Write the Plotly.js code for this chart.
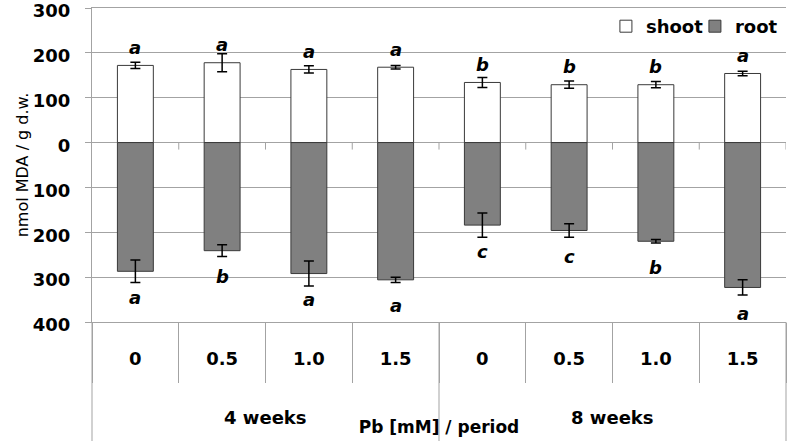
<!DOCTYPE html>
<html>
<head>
<meta charset="utf-8">
<script src="https://cdn.plot.ly/plotly-3.0.1.min.js"></script>
<style>html,body{margin:0;padding:0;background:#fff;}#chart{width:788px;height:441px;}</style>
</head>
<body>
<div id="chart"></div>
<script>
// ---- data ----
const groups = ['4 weeks', '8 weeks'];
const doses = ['0', '0.5', '1.0', '1.5'];
const shootMean = [172, 178, 163, 168, 134, 129, 129, 154];
const shootErr = [7, 20, 8, 4, 11, 8, 7, 5];
const rootMean = [287, 241, 292, 306, 184, 196, 220, 323];
const rootErr = [25, 13, 28, 6, 27, 15, 4, 17];
const shootLetters = ['a', 'a', 'a', 'a', 'b', 'b', 'b', 'a'];
const rootLetters = ['a', 'b', 'a', 'a', 'c', 'c', 'b', 'a'];
const yTickVals = [300, 200, 100, 0, -100, -200, -300, -400];

// ---- build ----
const cats = [];
const tickText = [];
groups.forEach(g => doses.forEach(d => { cats.push(g + ' | ' + d); tickText.push(d); }));

const gridCol = '#a3a3a3';
const FONT = 'DejaVu Sans, Arial, sans-serif';

const shoot = {
  type: 'bar', name: 'shoot', x: cats, y: shootMean,
  marker: { color: '#ffffff', line: { color: '#3a3a3a', width: 1 } },
  error_y: { type: 'data', array: shootErr, visible: true, color: '#000', thickness: 1.5, width: 5 },
  hoverinfo: 'skip'
};
const root = {
  type: 'bar', name: 'root', x: cats, y: rootMean.map(v => -v),
  marker: { color: '#808080', line: { color: '#3a3a3a', width: 1 } },
  error_y: { type: 'data', array: rootErr, visible: true, color: '#000', thickness: 1.5, width: 5 },
  hoverinfo: 'skip'
};

const annotations = [];
cats.forEach((c, i) => {
  annotations.push({ x: c, y: shootMean[i], xref: 'x', yref: 'y', text: '<b><i>' + shootLetters[i] + '</i></b>',
    showarrow: false, yshift: 18, yanchor: 'middle', font: { family: FONT, size: 18, color: '#000' } });
  annotations.push({ x: c, y: -rootMean[i], xref: 'x', yref: 'y', text: '<b><i>' + rootLetters[i] + '</i></b>',
    showarrow: false, yshift: -26, yanchor: 'middle', font: { family: FONT, size: 18, color: '#000' } });
});
// group labels
let start = 0;
const shapes = [];
groups.forEach((g, gi) => {
  const n = doses.length;
  annotations.push({ x: start + (n - 1) / 2, y: 0, xref: 'x', yref: 'paper', text: '<b>' + g + '</b>',
    showarrow: false, yshift: -95, yanchor: 'middle', font: { family: FONT, size: 18, color: '#000' } });
  start += n;
  if (gi < groups.length - 1) {
    shapes.push({ type: 'line', xref: 'x', yref: 'paper', x0: start - 0.5, x1: start - 0.5, y0: 0, y1: -0.5,
      line: { color: gridCol, width: 1 } });
  }
});
// outer edges of the table
shapes.push({ type: 'line', xref: 'paper', yref: 'paper', x0: 0, x1: 0, y0: 0, y1: -0.5, line: { color: gridCol, width: 1 } });
shapes.push({ type: 'line', xref: 'paper', yref: 'paper', x0: 1, x1: 1, y0: 0, y1: -0.5, line: { color: gridCol, width: 1 } });
// small tick marks on the zero line at category boundaries
cats.forEach((c, i) => {
  shapes.push({ type: 'line', xref: 'x', yref: 'y', ysizemode: 'pixel', yanchor: 0, x0: i + 0.5, x1: i + 0.5, y0: 0, y1: -7,
    line: { color: gridCol, width: 1 } });
});

const layout = {
  width: 788, height: 441,
  margin: { l: 92, r: 2, t: 8, b: 119 },
  paper_bgcolor: '#fff', plot_bgcolor: '#fff',
  font: { family: FONT, color: '#000' },
  barmode: 'relative', bargap: 0.586,
  showlegend: true,
  legend: { orientation: 'h', x: 0.997, xanchor: 'right', y: 1, yanchor: 'top', bgcolor: 'rgba(0,0,0,0)',
    font: { family: FONT, size: 18, color: '#000', weight: 'bold' }, itemwidth: 30, traceorder: 'normal',
    entrywidth: 44, entrywidthmode: 'pixels' },
  xaxis: {
    type: 'category', categoryorder: 'array', categoryarray: cats,
    tickmode: 'array', tickvals: cats, ticktext: tickText,
    tickson: 'boundaries', ticks: 'outside', ticklen: 60, tickcolor: gridCol, tickwidth: 1,
    ticklabelstandoff: 20,
    tickfont: { family: FONT, size: 18, color: '#000', weight: 'bold' },
    showgrid: false, zeroline: false, showline: true, mirror: true, linecolor: gridCol, linewidth: 1,
    range: [-0.5, cats.length - 0.5],
    title: { text: '<b>Pb [mM] / period</b>', font: { family: FONT, size: 17, color: '#000' }, standoff: 53 }
  },
  yaxis: {
    range: [-400, 300], tickmode: 'array', tickvals: yTickVals, ticktext: yTickVals.map(v => String(Math.abs(v))),
    ticks: 'outside', ticklen: 6, tickcolor: gridCol, tickwidth: 1,
    ticklabelstandoff: 11, ticklabelshift: 3, ticklabeloverflow: 'allow',
    tickfont: { family: FONT, size: 18, color: '#000', weight: 'bold' },
    showgrid: true, gridcolor: gridCol, gridwidth: 1,
    zeroline: true, zerolinecolor: gridCol, zerolinewidth: 1,
    showline: true, linecolor: gridCol, linewidth: 1,
    title: { text: 'nmol MDA / g d.w.', font: { family: FONT, size: 16, color: '#000' }, standoff: 0 }
  },
  annotations: annotations,
  shapes: shapes
};

Plotly.newPlot('chart', [shoot, root], layout, { staticPlot: true, displayModeBar: false });
</script>
</body>
</html>
